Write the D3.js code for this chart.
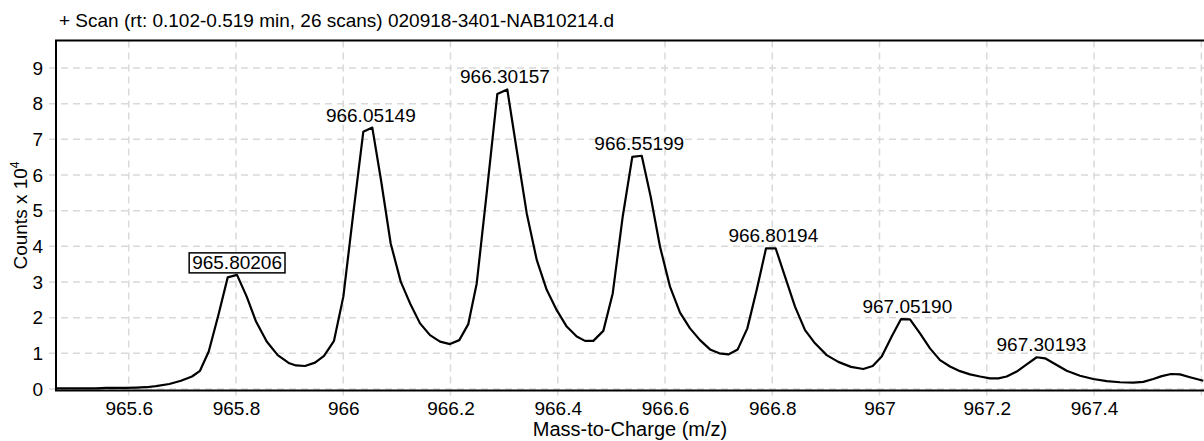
<!DOCTYPE html>
<html><head><meta charset="utf-8">
<script src="https://cdn.jsdelivr.net/npm/d3@7"></script>
<style>body{margin:0;background:#fff}svg{display:block;font-family:"Liberation Sans",Arial,sans-serif}</style>
</head><body><svg id="c" width="1204" height="441"></svg>
<script>
const title = "+ Scan (rt: 0.102-0.519 min, 26 scans) 020918-3401-NAB10214.d";
const xTicks = [965.6, 965.8, 966, 966.2, 966.4, 966.6, 966.8, 967, 967.2, 967.4, 967.6];
const xTickLabels = ["965.6", "965.8", "966", "966.2", "966.4", "966.6", "966.8", "967", "967.2", "967.4"];
const yTicks = [0,1,2,3,4,5,6,7,8,9];
const peakMz = [965.80206, 966.05149, 966.30157, 966.55199, 966.80194, 967.05190, 967.30193];
const peakCounts = [3.20, 7.33, 8.40, 6.54, 3.94, 1.96, 0.89];
const peakBoxed = [true, false, false, false, false, false, false];
const mz = [965.4644,965.4831,965.5017,965.5204,965.5390,965.5577,965.5763,965.5950,965.6136,965.6323,
965.6509,965.6757,965.6975,965.7180,965.7329,965.7492,965.7671,965.7846,965.8019,965.8200,
965.8374,965.8573,965.8778,965.8995,965.9120,965.9287,965.9474,965.9642,965.9828,966.0002,
966.0188,966.0374,966.0542,966.0704,966.0885,966.1072,966.1258,966.1432,966.1618,966.1805,
966.1991,966.2164,966.2332,966.2489,966.2675,966.2873,966.3059,966.3235,966.3421,966.3608,
966.3794,966.3981,966.4167,966.4354,966.4508,966.4663,966.4850,966.5025,966.5211,966.5390,
966.5566,966.5733,966.5907,966.6093,966.6280,966.6466,966.6653,966.6839,966.7013,966.7180,
966.7356,966.7535,966.7710,966.7883,966.8064,966.8238,966.8424,966.8611,966.8797,966.9015,
966.9231,966.9468,966.9698,966.9873,967.0041,967.0227,967.0401,967.0568,967.0755,967.0941,
967.1128,967.1314,967.1501,967.1687,967.1874,967.2060,967.2215,967.2371,967.2558,967.2744,
967.2931,967.3086,967.3272,967.3490,967.3738,967.3986,967.4236,967.4484,967.4732,967.4919,
967.5105,967.5262,967.5435,967.5603,967.5789,967.6037];
const counts = [0.02,0.02,0.02,0.02,0.02,0.03,0.03,0.03,0.04,0.05,
0.08,0.14,0.23,0.35,0.51,1.05,2.07,3.13,3.20,2.59,
1.89,1.33,0.95,0.72,0.66,0.645,0.74,0.93,1.35,2.59,
4.93,7.21,7.33,5.86,4.08,3.01,2.36,1.84,1.51,1.33,
1.26,1.37,1.82,2.96,5.49,8.27,8.40,6.70,4.93,3.62,
2.78,2.21,1.75,1.47,1.35,1.35,1.63,2.68,4.83,6.51,
6.54,5.39,3.99,2.87,2.14,1.70,1.37,1.11,1.00,0.97,
1.11,1.70,2.78,3.94,3.94,3.15,2.31,1.65,1.28,0.95,
0.76,0.62,0.56,0.645,0.91,1.47,1.96,1.95,1.56,1.14,
0.81,0.63,0.50,0.41,0.35,0.30,0.30,0.35,0.49,0.69,
0.89,0.86,0.70,0.51,0.37,0.28,0.22,0.19,0.18,0.20,
0.28,0.36,0.42,0.41,0.33,0.23];

const svg = d3.select("#c");
const L = 56, R = 1205, T = 40.5, B = 390.5;
const x = d3.scaleLinear().domain([965.4644, 967.6069]).range([L, R]);
const y = d3.scaleLinear().domain([-0.042, 9.771]).range([B, T]);
const FS = 19;
const FF = "Liberation Sans, Arial, sans-serif";

// gridlines
const grid = svg.append("g").attr("stroke", "#d9d9d9").attr("stroke-width", 1.5).attr("stroke-dasharray", "7,5");
grid.selectAll("line.h").data(yTicks).join("line").attr("class", "h")
  .attr("x1", L - 7).attr("x2", R).attr("y1", d => y(d)).attr("y2", d => y(d));
grid.selectAll("line.v").data(xTicks).join("line").attr("class", "v")
  .attr("y1", T).attr("y2", B + 6).attr("x1", d => x(d)).attr("x2", d => x(d));

// axis tick labels
const xa = svg.append("g").attr("transform", `translate(0,${B})`)
  .call(d3.axisBottom(x).tickValues(xTicks.slice(0, xTickLabels.length))
    .tickFormat((d, i) => xTickLabels[i]).tickSize(0).tickPadding(11));
xa.select(".domain").remove();
xa.selectAll("text").attr("font-size", FS).attr("fill", "#000").attr("font-family", FF);
const ya = svg.append("g").attr("transform", `translate(${L},0)`)
  .call(d3.axisLeft(y).tickValues(yTicks).tickSize(0).tickPadding(13));
ya.select(".domain").remove();
ya.selectAll("text").attr("font-size", FS).attr("fill", "#000").attr("font-family", FF);

// spectrum line
svg.append("path").datum(mz.map((m, i) => [m, counts[i]]))
  .attr("fill", "none").attr("stroke", "#000").attr("stroke-width", 2.2).attr("stroke-linejoin", "round")
  .attr("d", d3.line().x(d => x(d[0])).y(d => y(d[1])));

// frame
svg.append("rect").attr("x", L).attr("y", T).attr("width", R - L).attr("height", B - T)
  .attr("fill", "none").attr("stroke", "#000").attr("stroke-width", 2);

// peak labels
peakMz.forEach((m, i) => {
  const t = svg.append("text").attr("x", x(m)).attr("y", y(peakCounts[i]) - 6)
    .attr("text-anchor", "middle").attr("font-size", FS).attr("fill", "#000").text(m.toFixed(5));
  if (peakBoxed[i]) {
    const bb = t.node().getBBox();
    svg.append("rect").attr("x", bb.x - 3).attr("y", bb.y + 1).attr("width", bb.width + 6).attr("height", bb.height - 1)
      .attr("fill", "#fff").attr("stroke", "#000").attr("stroke-width", 1.5);
    t.raise();
  }
});

// title
svg.append("text").attr("x", 59).attr("y", 27).attr("font-size", FS).attr("fill", "#000").text(title);

// axis titles
svg.append("text").attr("x", (L + 1204) / 2).attr("y", 436).attr("text-anchor", "middle")
  .attr("font-size", 20).attr("fill", "#000").text("Mass-to-Charge (m/z)");
const yl = svg.append("text").attr("transform", `translate(27,${(T + B) / 2}) rotate(-90)`)
  .attr("text-anchor", "middle").attr("font-size", FS).attr("fill", "#000");
yl.append("tspan").text("Counts x 10");
yl.append("tspan").attr("font-size", 12).attr("dy", -8).text("4");
</script></body></html>
